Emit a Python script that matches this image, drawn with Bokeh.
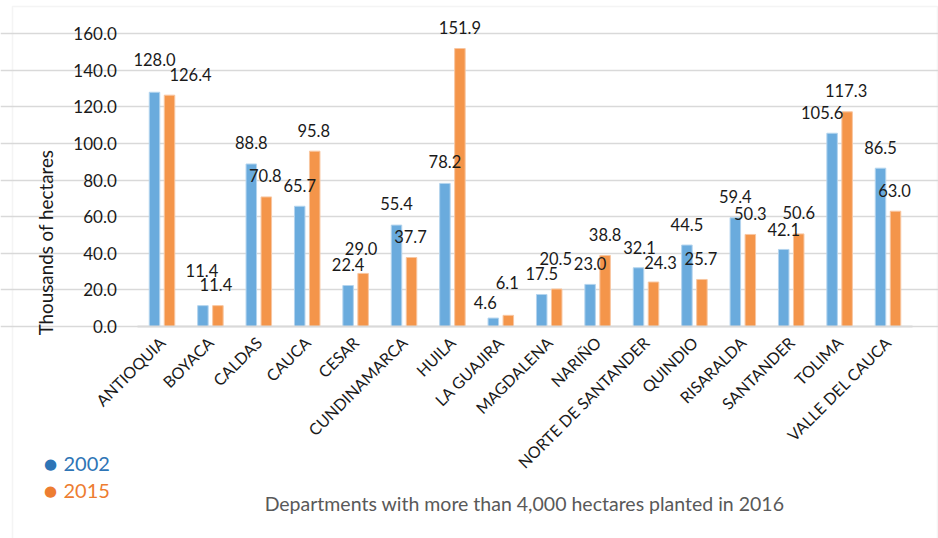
import math
from bokeh.plotting import figure
from bokeh.models import (ColumnDataSource, Range1d, FixedTicker, NumeralTickFormatter, Label,
                          BoxAnnotation, LinearAxis, Grid)
from bokeh.transform import dodge
from bokeh.core.properties import value
from bokeh.embed import file_html
from bokeh.resources import INLINE

# ---- data ----
departments = ["ANTIOQUIA", "BOYACA", "CALDAS", "CAUCA", "CESAR", "CUNDINAMARCA", "HUILA",
               "LA GUAJIRA", "MAGDALENA", "NARIÑO", "NORTE DE SANTANDER", "QUINDIO",
               "RISARALDA", "SANTANDER", "TOLIMA", "VALLE DEL CAUCA"]
v2002 = [128.0, 11.4, 88.8, 65.7, 22.4, 55.4, 78.2, 4.6, 17.5, 23.0, 32.1, 44.5, 59.4, 42.1, 105.6, 86.5]
v2015 = [126.4, 11.4, 70.8, 95.8, 29.0, 37.7, 151.9, 6.1, 20.5, 38.8, 24.3, 25.7, 50.3, 50.6, 117.3, 63.0]
y_ticks = [0, 20, 40, 60, 80, 100, 120, 140, 160]

# ---- label placement styles (pixel offsets: right / up) ----
dx2002 = [0, -1, 0, 0, 0, 0, 0, -8, 0, 0, 1, 0, 0, 0, -10, 0]
dy2002 = [33, 35, 21, 21, 21, 22, 22, 16, 21, 21, 20, 21, 21, 20, 21, 21]
dx2015 = [21, -2, -1, -1, -2, -1, 0, -1, -1, 0, 7, -1, 0, 0, -1, -1]
dy2015 = [21, 21, 21, 21, 25, 21, 21, 33, 30, 21, 20, 21, 21, 21, 21, 21]

BLUE = "#6AABDD"
ORANGE = "#F4954A"
FONT = "Lato"
W, H = 938, 538

n = len(departments)
centers = [i + 0.5 for i in range(n)]          # category slots on the x scale

src = ColumnDataSource(dict(
    xc=centers, dept=departments, v2002=v2002, v2015=v2015,
    t2002=[f"{v:.1f}" for v in v2002], t2015=[f"{v:.1f}" for v in v2015],
    dx2002=dx2002, dy2002=[-d for d in dy2002],
    dx2015=dx2015, dy2015=[-d for d in dy2015],
))

# frame covers the whole canvas; axes are pinned at x=0 / y=0 inside it
p = figure(x_range=Range1d(-2.837, 16.543), y_range=Range1d(-115.85, 178.14),
           width=W, height=H, output_backend="svg", toolbar_location=None,
           min_border_left=0, min_border_right=0, min_border_top=0, min_border_bottom=0,
           x_axis_type=None, y_axis_type=None)
p.outline_line_color = None
p.background_fill_color = "white"
p.border_fill_color = "white"
p.xgrid.grid_line_color = None
p.ygrid.grid_line_color = None

grid = Grid(dimension=1, ticker=FixedTicker(ticks=y_ticks), bounds=(0, n),
            grid_line_color="#D9D9D9", grid_line_width=1.5)
p.add_layout(grid)

bw = 0.217
off = 0.155
p.vbar(x=dodge("xc", -off), top="v2002", width=bw, source=src,
       fill_color=BLUE, line_color="#B3D4EE", line_width=1)
p.vbar(x=dodge("xc", off), top="v2015", width=bw, source=src,
       fill_color=ORANGE, line_color="#F8C6A0", line_width=1)

p.text(x=dodge("xc", -off), y="v2002", text="t2002", source=src,
       x_offset="dx2002", y_offset="dy2002", text_align="center", text_baseline="middle",
       text_font=value(FONT), text_font_size="16.5px", text_color="#1A1A1A")
p.text(x=dodge("xc", off), y="v2015", text="t2015", source=src,
       x_offset="dx2015", y_offset="dy2015", text_align="center", text_baseline="middle",
       text_font=value(FONT), text_font_size="16.5px", text_color="#1A1A1A")

# y axis
yax = LinearAxis(ticker=FixedTicker(ticks=y_ticks), formatter=NumeralTickFormatter(format="0.0"),
                 fixed_location=0, bounds=(0, 160))
yax.axis_line_color = None
yax.major_tick_line_color = None
yax.minor_tick_line_color = None
yax.major_tick_out = 0
yax.major_tick_in = 0
yax.minor_tick_out = 0
yax.minor_tick_in = 0
yax.major_label_standoff = 21
yax.major_label_text_font = FONT
yax.major_label_text_font_size = "17px"
yax.major_label_text_color = "#1A1A1A"
p.add_layout(yax, "left")

# x axis with department names
xax = LinearAxis(ticker=FixedTicker(ticks=centers),
                 major_label_overrides={c: d for c, d in zip(centers, departments)},
                 fixed_location=0, bounds=(0, n))
xax.axis_line_color = "#D9D9D9"
xax.axis_line_width = 2
xax.major_tick_line_color = None
xax.minor_tick_line_color = None
xax.major_tick_out = 0
xax.major_tick_in = 0
xax.minor_tick_out = 0
xax.minor_tick_in = 0
xax.major_label_orientation = math.pi / 4
xax.major_label_standoff = 13
xax.major_label_text_font = FONT
xax.major_label_text_font_size = "16px"
xax.major_label_text_color = "#1A1A1A"
p.add_layout(xax, "below")

# titles (screen units: from frame bottom-left, y up)
p.add_layout(Label(x=524, y=H - 503, x_units="screen", y_units="screen",
                   text="Departments with more than 4,000 hectares planted in 2016",
                   text_align="center", text_baseline="middle", text_font=FONT,
                   text_font_size="19.5px", text_color="#595959"))
p.add_layout(Label(x=45, y=H - 242, x_units="screen", y_units="screen", angle=math.pi / 2,
                   text="Thousands of hectares", text_align="center", text_baseline="middle",
                   text_font=FONT, text_font_size="18.8px", text_color="#1A1A1A"))

# legend
for txt, col, yy in [("2002", "#2E75B6", 463), ("2015", "#ED7D31", 490)]:
    p.add_layout(Label(x=50, y=H - yy, x_units="screen", y_units="screen", text="●",
                       text_align="center", text_baseline="middle", text_font="DejaVu Sans",
                       text_font_size="15px", text_color=col))
    p.add_layout(Label(x=63, y=H - yy, x_units="screen", y_units="screen", text=txt,
                       text_align="left", text_baseline="middle", text_font=FONT,
                       text_font_size="20px", text_color=col))

# outer frame
p.add_layout(BoxAnnotation(left=12, right=937, top=H - 6, bottom=-5,
                           left_units="screen", right_units="screen",
                           top_units="screen", bottom_units="screen",
                           fill_alpha=0, line_color="#D9D9D9", line_width=1.5))

open("out.html", "w").write(file_html(p, INLINE))
